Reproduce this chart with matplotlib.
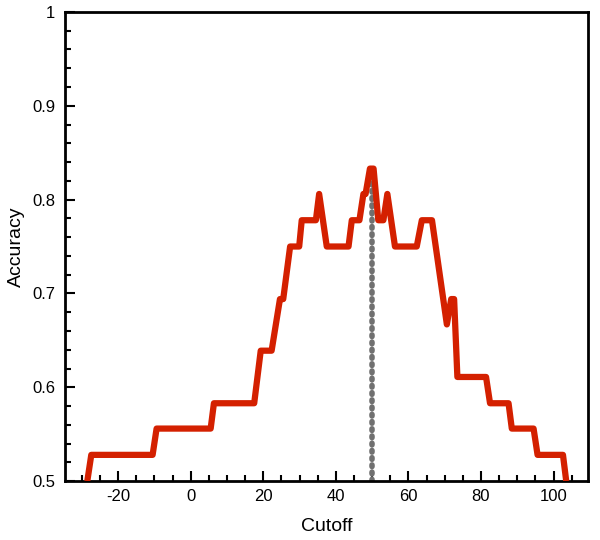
import matplotlib
matplotlib.use("Agg")
import matplotlib.pyplot as plt

plt.rcParams['font.family'] = ['Liberation Sans', 'DejaVu Sans']

# Vertices of the accuracy curve (cutoff, accuracy)
cutoff = [-28.5, -27.4, -10.5, -9.4, 5.5, 6.4, 17.5, 19.3, 22.3, 24.6, 25.5,
          27.4, 29.9, 30.6, 34.5, 35.4, 37.5, 43.5, 44.4, 46.5, 47.6, 48.2,
          49.4, 50.4, 51.7, 53.1, 54.2, 56.3, 62.3, 63.7, 66.5, 70.6, 71.8,
          72.6, 73.5, 81.4, 82.5, 87.6, 88.5, 94.5, 95.6, 102.6, 103.5]
accuracy = [0.500, 0.528, 0.528, 0.556, 0.556, 0.583, 0.583, 0.639, 0.639, 0.694, 0.694,
            0.750, 0.750, 0.778, 0.778, 0.806, 0.750, 0.750, 0.778, 0.778, 0.806, 0.806,
            0.833, 0.833, 0.778, 0.778, 0.806, 0.750, 0.750, 0.778, 0.778, 0.667, 0.694,
            0.694, 0.611, 0.611, 0.583, 0.583, 0.556, 0.556, 0.528, 0.528, 0.500]
best_cutoff = 50
x_ticks = [-20, 0, 20, 40, 60, 80, 100]
y_ticks = [0.5, 0.6, 0.7, 0.8, 0.9, 1.0]
y_tick_labels = ["0.5", "0.6", "0.7", "0.8", "0.9", "1"]

fig = plt.figure(figsize=(6, 5.4), dpi=100)
ax = fig.add_axes([0.108, 0.109, 0.872, 0.869])

ax.vlines(best_cutoff, 0.5, max(accuracy), colors='#707070', linewidth=4,
          linestyles=(0, (0.3, 1.0)), capstyle='round', zorder=2)
ax.plot(cutoff, accuracy, color='#D42000', linewidth=4.5, solid_joinstyle='round',
        solid_capstyle='butt', zorder=3, clip_on=True)

ax.set_xlim(-34.7, 109.5)
ax.set_ylim(0.5, 1.0)
ax.set_xticks(x_ticks)
ax.set_xticklabels([str(v) for v in x_ticks])
ax.set_xticks(range(-30, 110, 5), minor=True)
ax.set_yticks(y_ticks)
ax.set_yticklabels(y_tick_labels)
ax.set_yticks([0.5 + 0.02 * i for i in range(26)], minor=True)

ax.tick_params(which='both', direction='in', top=False, right=False,
               width=1.5, color='black', labelsize=12)
ax.tick_params(which='major', length=7)
ax.tick_params(which='minor', length=4)
ax.tick_params(axis='x', pad=6)
ax.tick_params(axis='y', pad=7)

for s in ax.spines.values():
    s.set_linewidth(2)
    s.set_color('black')

ax.set_xlabel('Cutoff', fontsize=14, labelpad=10)
ax.set_ylabel('Accuracy', fontsize=14, labelpad=5)

fig.savefig('out.png', dpi=100)
